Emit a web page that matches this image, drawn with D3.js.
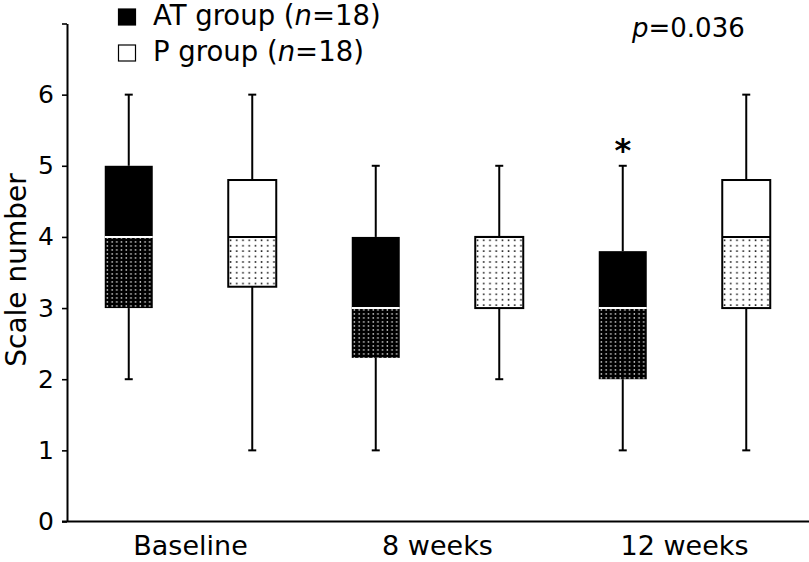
<!DOCTYPE html>
<html><head><meta charset="utf-8">
<script src="https://cdn.jsdelivr.net/npm/d3@7"></script>
<style>body{margin:0;background:#fff}svg{display:block}</style>
</head><body><svg id="c" width="809" height="562"></svg>
<script>
// ---- data ----
const timepoints = ["Baseline", "8 weeks", "12 weeks"];
const groups = ["AT", "P"];
const atMin = [2, 1, 1];
const atQ1  = [3, 2.3, 2];
const atMed = [4, 3, 3];
const atQ3  = [5, 4, 3.8];
const atMax = [6, 5, 5];
const pMin  = [1, 2, 1];
const pQ1   = [3.3, 3, 3];
const pMed  = [4, 4, 4];
const pQ3   = [4.8, 4, 4.8];
const pMax  = [6, 5, 6];
const yTicks = [0, 1, 2, 3, 4, 5, 6, 7];
const legendNames = ["AT group", "P group"];
const legendN = [18, 18];
const pValue = "0.036";
const sigTime = "12 weeks", sigGroup = "AT", sigMark = "*";

// ---- build ----
const boxes = [];
timepoints.forEach((t, i) => {
  boxes.push({t, g: "AT", min: atMin[i], q1: atQ1[i], med: atMed[i], q3: atQ3[i], max: atMax[i]});
  boxes.push({t, g: "P", min: pMin[i], q1: pQ1[i], med: pMed[i], q3: pQ3[i], max: pMax[i]});
});

const svg = d3.select("#c");
const FONT = "'DejaVu Sans', Verdana, sans-serif";
const y = d3.scaleLinear().domain([0, 7]).range([521.5, 23.5]);
const x0 = d3.scaleBand().domain(timepoints).range([67, 808]);
const x1 = d3.scalePoint().domain(groups).range([0, x0.bandwidth()]).padding(0.5);
const BW = 48, CAP = 8;

const defs = svg.append("defs");
const pa = defs.append("pattern").attr("id", "patAT").attr("patternUnits", "userSpaceOnUse")
  .attr("width", 4.7).attr("height", 4);
pa.append("rect").attr("width", 4.7).attr("height", 4).attr("fill", "#000");
pa.append("rect").attr("x", 1.5).attr("y", 1.3).attr("width", 1.4).attr("height", 1.3).attr("fill", "#fff");
const pp = defs.append("pattern").attr("id", "patP").attr("patternUnits", "userSpaceOnUse")
  .attr("width", 6.2).attr("height", 5.4);
pp.append("rect").attr("width", 6.2).attr("height", 5.4).attr("fill", "#fff");
pp.append("rect").attr("x", 2.4).attr("y", 2).attr("width", 1.5).attr("height", 1.5).attr("fill", "#000");

// y axis
const ya = svg.append("g").attr("transform", "translate(67,0)")
  .call(d3.axisLeft(y).tickValues(yTicks).tickSize(5).tickSizeOuter(0).tickPadding(8)
    .tickFormat(d => d === 7 ? "" : d));
ya.select(".domain").attr("stroke", "#000").attr("stroke-width", 2);
ya.selectAll(".tick line").attr("stroke", "#000").attr("stroke-width", 1.6);
ya.selectAll(".tick text").attr("font-family", FONT).attr("font-size", 25).attr("fill", "#000");

// x axis line + labels
svg.append("line").attr("x1", 62).attr("x2", 809).attr("y1", y(0)).attr("y2", y(0))
  .attr("stroke", "#000").attr("stroke-width", 2);
const xa = svg.append("g").attr("transform", `translate(0,${y(0)})`)
  .call(d3.axisBottom(x0).tickSize(0).tickPadding(14));
xa.select(".domain").remove();
xa.selectAll(".tick text").attr("font-family", FONT).attr("font-size", 27).attr("fill", "#000");

// y title
svg.append("text").attr("transform", "translate(26,270) rotate(-90)")
  .attr("text-anchor", "middle").attr("font-family", FONT).attr("font-size", 28)
  .text("Scale number");

// boxes
const bg = svg.selectAll("g.box").data(boxes).join("g").attr("class", "box")
  .attr("transform", d => `translate(${x0(d.t) + x1(d.g)},0)`);
bg.append("line").attr("x1", 0).attr("x2", 0).attr("y1", d => y(d.q3)).attr("y2", d => y(d.max))
  .attr("stroke", "#000").attr("stroke-width", 2);
bg.append("line").attr("x1", 0).attr("x2", 0).attr("y1", d => y(d.q1)).attr("y2", d => y(d.min))
  .attr("stroke", "#000").attr("stroke-width", 2);
bg.append("line").attr("x1", -CAP / 2).attr("x2", CAP / 2).attr("y1", d => y(d.max)).attr("y2", d => y(d.max))
  .attr("stroke", "#000").attr("stroke-width", 2);
bg.append("line").attr("x1", -CAP / 2).attr("x2", CAP / 2).attr("y1", d => y(d.min)).attr("y2", d => y(d.min))
  .attr("stroke", "#000").attr("stroke-width", 2);
bg.append("rect").attr("x", -BW / 2).attr("width", BW)
  .attr("y", d => y(d.q3)).attr("height", d => y(d.med) - y(d.q3))
  .attr("fill", d => d.g === "AT" ? "#000" : "#fff");
bg.append("rect").attr("x", -BW / 2).attr("width", BW)
  .attr("y", d => y(d.med)).attr("height", d => y(d.q1) - y(d.med))
  .attr("fill", d => d.g === "AT" ? "url(#patAT)" : "url(#patP)");
bg.filter(d => d.g === "P").append("rect").attr("x", -BW / 2).attr("width", BW)
  .attr("y", d => y(d.q3)).attr("height", d => y(d.q1) - y(d.q3))
  .attr("fill", "none").attr("stroke", "#000").attr("stroke-width", 2);
bg.append("line").attr("x1", -BW / 2).attr("x2", BW / 2).attr("y1", d => y(d.med)).attr("y2", d => y(d.med))
  .attr("stroke", d => d.g === "AT" ? "#fff" : "#000").attr("stroke-width", 2);

// significance mark
const sb = boxes.find(b => b.t === sigTime && b.g === sigGroup);
svg.append("text").attr("x", x0(sigTime) + x1(sigGroup)).attr("y", y(sb.max) - 5)
  .attr("text-anchor", "middle").attr("font-family", FONT).attr("font-weight", "bold")
  .attr("font-size", 32).text(sigMark);

// legend
const lg = svg.append("g");
legendNames.forEach((name, i) => {
  const yy = 9 + i * 36;
  lg.append("rect").attr("x", 118.5).attr("y", yy).attr("width", 17).attr("height", 16)
    .attr("fill", i === 0 ? "#000" : "#fff").attr("stroke", "#000").attr("stroke-width", 1.2);
  const t = lg.append("text").attr("x", 153).attr("y", yy + 16).attr("font-family", FONT)
    .attr("font-size", 27.5).attr("fill", "#000");
  t.append("tspan").text(name + " (");
  t.append("tspan").attr("font-style", "italic").text("n");
  t.append("tspan").text("=" + legendN[i] + ")");
});

// p value
const pt = svg.append("text").attr("x", 632).attr("y", 37).attr("font-family", FONT)
  .attr("font-size", 26).attr("fill", "#000");
pt.append("tspan").attr("font-style", "italic").text("p");
pt.append("tspan").text("=" + pValue);
</script></body></html>
